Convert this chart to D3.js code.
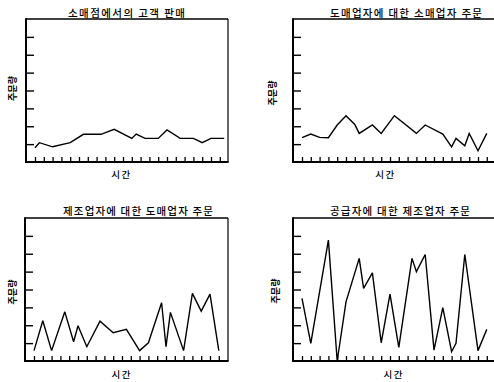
<!DOCTYPE html>
<html><head><meta charset="utf-8">
<script src="https://cdn.jsdelivr.net/npm/d3@7"></script>
<style>body{margin:0;background:#fff}svg{display:block}</style>
</head><body>
<svg id="c" width="494" height="382"></svg>
<script>
const titles = ["소매점에서의 고객 판매", "도매업자에 대한 소매업자 주문", "제조업자에 대한 도매업자 주문", "공급자에 대한 제조업자 주문"];
const yLabel = "주문량";
const xLabel = "시간";
const yTickValues = [1, 2, 3, 4, 5, 6, 7];
const xTickValues = [0, 2, 4, 6, 8, 10, 12, 14, 16, 18, 20, 22, 24, 26, 28, 30, 32, 34, 36, 38, 40, 42];

const p1Times  = [0, 1, 4, 8, 11, 15, 18, 22, 23, 25, 28, 30, 33, 36, 38, 40, 43];
const p1Values = [0.8, 1.08, 0.85, 1.08, 1.55, 1.55, 1.83, 1.32, 1.56, 1.32, 1.32, 1.79, 1.32, 1.32, 1.08, 1.32, 1.32];

const p2Times  = [0, 2, 4, 6, 8, 10, 12, 13, 16, 18, 21, 26, 28, 32, 34, 35, 37, 38, 40, 42];
const p2Values = [1.36, 1.56, 1.38, 1.36, 2.07, 2.59, 2.1, 1.6, 2.07, 1.6, 2.59, 1.6, 2.07, 1.56, 0.85, 1.32, 0.91, 1.6, 0.63, 1.6];

const p3Times  = [0, 2, 4, 7, 9, 10, 12, 15, 18, 21, 24, 26, 29, 30, 31, 34, 36, 38, 40, 42];
const p3Values = [0.58, 2.25, 0.58, 2.75, 1.08, 1.97, 0.8, 2.23, 1.58, 1.77, 0.58, 1.02, 3.26, 0.8, 2.72, 0.58, 3.78, 2.79, 3.74, 0.58];

const p4Times  = [0, 2, 6, 8, 10, 13, 14, 16, 18, 20, 22, 25, 26, 28, 30, 32, 34, 35, 37, 40, 42];
const p4Values = [3.5, 0.99, 6.76, 0, 3.31, 5.74, 4.06, 4.93, 1.02, 3.74, 0.76, 5.74, 5.0, 5.96, 0.61, 2.98, 0.52, 0.99, 5.96, 0.58, 1.77];

const series = [[p1Times, p1Values], [p2Times, p2Values], [p3Times, p3Values], [p4Times, p4Values]];

// layout
const panels = [
  {x0: 26, x1: 228, y0: 19, y1: 162, tx: 126.5, ty: 12.5, tw: 117, lx: 12.5, ly: 88.5, xx: 120.7, xy: 174},
  {x0: 293, x1: 495, y0: 19, y1: 162, tx: 406, ty: 12.5, tw: 152, lx: 272.5, ly: 93, xx: 384.7, xy: 174},
  {x0: 25, x1: 228, y0: 218, y1: 361, tx: 138, ty: 210.5, tw: 150, lx: 12.5, ly: 292, xx: 121, xy: 374},
  {x0: 293, x1: 495, y0: 218, y1: 361, tx: 400, ty: 210.5, tw: 140, lx: 275.5, ly: 291, xx: 393, xy: 374}
];

const svg = d3.select("#c");
const font = "'Noto Sans CJK KR', 'Noto Sans', sans-serif";

panels.forEach((p, i) => {
  const g = svg.append("g");
  const x = d3.scaleLinear().domain([0, 42]).range([p.x0 + 9, p.x0 + 9 + 42 * 4.4]);
  const y = d3.scaleLinear().domain([0, 8]).range([p.y1, p.y0]);

  // frame
  g.append("line").attr("x1", p.x0).attr("x2", p.x1).attr("y1", p.y0).attr("y2", p.y0)
    .attr("stroke", "#000").attr("stroke-width", 1.5);
  g.append("line").attr("x1", p.x1).attr("x2", p.x1).attr("y1", p.y0).attr("y2", p.y1)
    .attr("stroke", "#000").attr("stroke-width", 1.2);
  g.append("line").attr("x1", p.x0).attr("x2", p.x0).attr("y1", p.y0 - 0.7).attr("y2", p.y1 + 1)
    .attr("stroke", "#000").attr("stroke-width", 2);
  g.append("line").attr("x1", p.x0).attr("x2", p.x1 + 0.6).attr("y1", p.y1).attr("y2", p.y1)
    .attr("stroke", "#000").attr("stroke-width", 2);

  // y ticks (inward)
  const ya = g.append("g").attr("transform", `translate(${p.x0},0)`)
    .call(d3.axisLeft(y).tickValues(yTickValues).tickSize(-8).tickSizeOuter(0).tickFormat(""));
  ya.select(".domain").remove();
  ya.selectAll(".tick line").attr("stroke", "#000").attr("stroke-width", 1.4);

  // x ticks (inward)
  const xa = g.append("g").attr("transform", `translate(0,${p.y1})`)
    .call(d3.axisBottom(x).tickValues(xTickValues).tickSize(-5).tickSizeOuter(0).tickFormat(""));
  xa.select(".domain").remove();
  xa.selectAll(".tick line").attr("stroke", "#000").attr("stroke-width", 1.3);

  // line
  const [ts, vs] = series[i];
  const pts = ts.map((t, k) => [t, vs[k]]);
  g.append("path").datum(pts)
    .attr("fill", "none").attr("stroke", "#000").attr("stroke-width", 1.4)
    .attr("stroke-linejoin", "miter").attr("stroke-miterlimit", 3)
    .attr("d", d3.line().x(d => x(d[0])).y(d => y(d[1])));

  // title
  g.append("text").attr("x", p.tx).attr("y", p.ty)
    .attr("text-anchor", "middle").attr("dominant-baseline", "central")
    .attr("font-family", font).attr("font-size", 10.5).attr("font-weight", 500)
    .attr("textLength", p.tw).attr("lengthAdjust", "spacing")
    .text(titles[i]);

  // y label
  g.append("text").attr("transform", `translate(${p.lx},${p.ly}) rotate(-90)`)
    .attr("text-anchor", "middle").attr("dominant-baseline", "central")
    .attr("font-family", font).attr("font-size", 9).attr("font-weight", "bold")
    .text(yLabel);

  // x label
  g.append("text").attr("x", p.xx).attr("y", p.xy)
    .attr("text-anchor", "middle").attr("dominant-baseline", "central")
    .attr("font-family", font).attr("font-size", 9.5).attr("font-weight", 500)
    .attr("textLength", 19).attr("lengthAdjust", "spacing")
    .text(xLabel);
});
</script>
</body></html>
